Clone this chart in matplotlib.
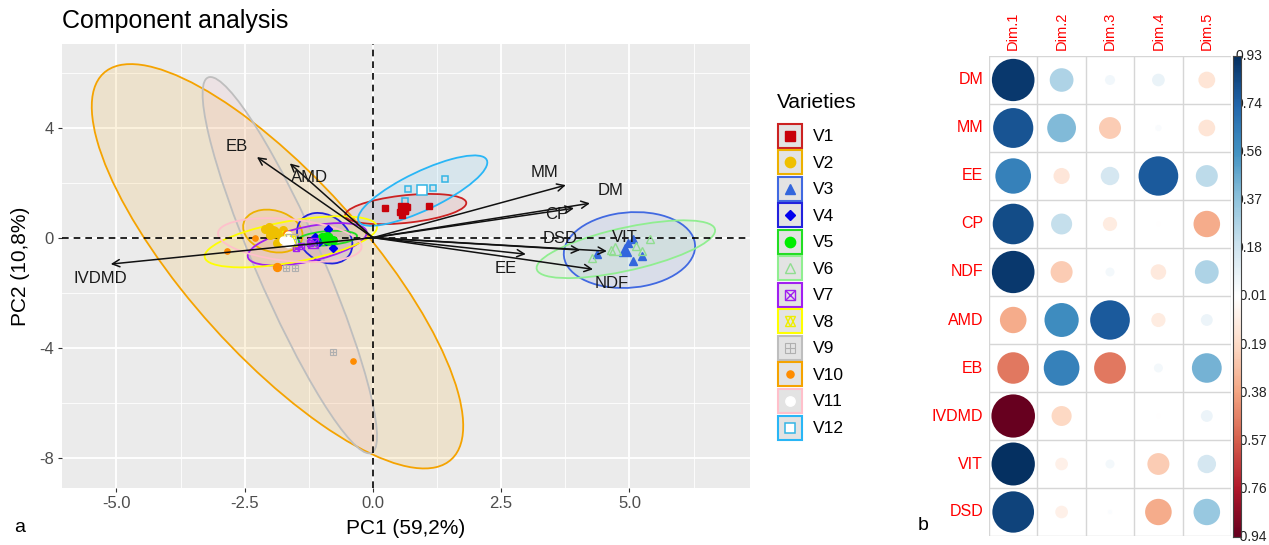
import numpy as np
import matplotlib
matplotlib.use('Agg')
import matplotlib.pyplot as plt
from matplotlib.patches import Ellipse, Circle, Rectangle
from matplotlib.colors import LinearSegmentedColormap, Normalize

plt.rcParams['font.family'] = ['Liberation Sans', 'DejaVu Sans']
plt.rcParams['axes.unicode_minus'] = False

# ---- PCA biplot data ----
varieties = ['V1', 'V2', 'V3', 'V4', 'V5', 'V6', 'V7', 'V8', 'V9', 'V10', 'V11', 'V12']
point_colors = ['#C8000A', '#EFC000', '#3366DD', '#0000EE', '#00EE00', '#90DD90',
                '#A020F0', '#EEEE00', '#B0B0B0', '#FF8C00', '#FFFFFF', '#33B5E5']
line_colors = ['#CC2222', '#EDB100', '#4169E1', '#2222DD', '#22DD22', '#90EE90',
               '#A020F0', '#FFFF00', '#BEBEBE', '#F5A300', '#FFC0CB', '#29B6F6']

# individual observations (PC1, PC2) per variety
obs_pc1 = [
    [0.24, 0.53, 0.59, 0.67, 0.57, 1.09, 0.63],
    [-2.1, -2.03, -1.87, -1.81, -1.75, -2.0],
    [4.37, 4.91, 5.07, 5.07, 5.24, 4.97],
    [-1.12, -0.87, -0.77, -1.06, -0.8],
    [-0.89, -1.0, -0.78],
    [4.27, 4.65, 5.24, 5.4, 5.13],
    [-1.4, -1.22, -1.5],
    [-1.7, -1.6],
    [-1.7, -1.52, -0.78],
    [-2.85, -0.38, -2.3, -1.7],
    [-1.75, -1.65, -1.55],
    [0.69, 1.18, 1.4, 0.63],
]
obs_pc2 = [
    [1.07, 0.92, 1.07, 1.1, 0.81, 1.14, 0.98],
    [0.31, 0.38, -0.2, 0.09, 0.27, 0.08],
    [-0.6, -0.45, -0.06, -0.85, -0.67, -0.2],
    [0.02, 0.31, -0.38, -0.16, -0.07],
    [-0.02, 0.03, -0.07],
    [-0.74, -0.45, -0.49, -0.06, -0.32],
    [-0.32, -0.2, -0.37],
    [0.08, -0.07],
    [-1.1, -1.1, -4.17],
    [-0.47, -4.47, -0.02, 0.18],
    [-0.07, 0.08, -0.12],
    [1.76, 1.79, 2.15, 1.33],
]
# group mean points
mean_pc1 = [0.58, -1.95, 4.91, -0.92, -0.9, 4.72, -1.17, -1.6, -1.6, -1.87, -1.66, 0.96]
mean_pc2 = [1.07, 0.2, -0.45, -0.05, -0.02, -0.43, -0.2, -0.1, -0.05, -1.07, -0.16, 1.73]

# confidence ellipses: centre, half extent in x / y, correlation
ell_cx = [0.64, -1.95, 5.0, -0.94, -0.89, 4.93, -1.28, -1.6, -1.62, -1.86, -1.62, 0.97]
ell_cy = [1.04, 0.24, -0.45, -0.02, -0.02, -0.42, -0.24, -0.15, -1.0, -1.04, -0.09, 1.71]
ell_hx = [1.18, 0.58, 1.28, 0.54, 0.58, 1.74, 1.16, 1.68, 1.70, 3.62, 1.4, 1.26]
ell_hy = [0.55, 0.78, 1.38, 0.92, 0.27, 1.05, 0.77, 0.93, 6.84, 7.35, 0.8, 1.28]
ell_r = [0.4, -0.2, 0.1, -0.25, 0.3, 0.65, 0.55, 0.57, -0.91, -0.79, -0.3, 0.8]
ell_fill = ['#CC2222', '#EDB100', '#4169E1', '#2222DD', '#22DD22', '#90EE90',
            '#A020F0', '#FFFF00', '#F4A6B8', '#F5A300', '#FFC0CB', '#29B6F6']

# variable loadings (arrows) and label spots
var_names = ['EB', 'AMD', 'MM', 'DM', 'CP', 'DSD', 'VIT', 'EE', 'NDF', 'IVDMD']
load_x = [-2.26, -1.62, 3.76, 4.23, 3.92, 4.04, 4.56, 2.98, 4.29, -5.11]
load_y = [2.93, 2.7, 1.91, 1.25, 1.07, -0.45, -0.49, -0.6, -1.15, -0.96]
label_x = [-2.65, -1.23, 3.35, 4.64, 3.59, 3.65, 4.91, 2.59, 4.65, -5.32]
label_y = [3.33, 2.19, 2.38, 1.73, 0.85, -0.02, 0.02, -1.11, -1.65, -1.47]

# ---- correlation plot data ----
corr_rows = ['DM', 'MM', 'EE', 'CP', 'NDF', 'AMD', 'EB', 'IVDMD', 'VIT', 'DSD']
corr_cols = ['Dim.1', 'Dim.2', 'Dim.3', 'Dim.4', 'Dim.5']
corr_values = [
    [0.90, 0.28, 0.05, 0.08, -0.14],
    [0.80, 0.41, -0.24, 0.02, -0.14],
    [0.63, -0.13, 0.17, 0.78, 0.24],
    [0.83, 0.22, -0.10, -0.01, -0.35],
    [0.90, -0.24, 0.04, -0.12, 0.28],
    [-0.35, 0.58, 0.78, -0.10, 0.07],
    [-0.50, 0.63, -0.50, 0.04, 0.44],
    [-0.94, -0.20, 0.0, -0.01, 0.07],
    [0.93, -0.08, 0.04, -0.24, 0.17],
    [0.86, -0.08, 0.01, -0.35, 0.35],
]
cbar_labels = ['0.93', '0.74', '0.56', '0.37', '0.18', '-0.01',
               '-0.19', '-0.38', '-0.57', '-0.76', '-0.94']

W, H = 1269, 545
fig = plt.figure(figsize=(W / 100, H / 100), dpi=100)


def fax(x0, y0, x1, y1):
    return [x0 / W, 1 - y1 / H, (x1 - x0) / W, (y1 - y0) / H]


def draw_marker(ax, x, y, i, s=1.0, **kw):
    c = point_colors[i]
    big = s > 1.2
    if i == 0:
        ax.plot(x, y, 's', ms=5 * s, color=c, mec=c, **kw)
    elif i in (1, 4):
        ax.plot(x, y, 'o', ms=5.5 * s, color=c, mec=c, **kw)
    elif i == 2:
        ax.plot(x, y, '^', ms=5.5 * s, color=c, mec=c, **kw)
    elif i == 3:
        ax.plot(x, y, 'D', ms=3.8 * s, color=c, mec=c, **kw)
    elif i == 5:
        ax.plot(x, y, '^', ms=5.5 * s, mfc='none', mec=c, mew=1, **kw)
    elif i == 6:
        ax.plot(x, y, 's', ms=5 * s, mfc='none', mec=c, mew=1, **kw)
        ax.plot(x, y, 'x', ms=5 * s, color=c, mew=1, **kw)
    elif i == 7:
        ax.plot(x, y, '^', ms=5.5 * s, mfc='none', mec=c, mew=1, **kw)
        ax.plot(x, y, 'v', ms=5.5 * s, mfc='none', mec=c, mew=1, **kw)
    elif i == 8:
        ax.plot(x, y, 's', ms=5 * s, mfc='none', mec=c, mew=0.8, **kw)
        ax.plot(x, y, '+', ms=5 * s, color=c, mew=0.8, **kw)
    elif i == 9:
        ax.plot(x, y, 'o', ms=3.8 * s, color=c, mec=c, **kw)
    elif i == 10:
        ax.plot(x, y, 'o', ms=5 * s, color='white', mec='white', **kw)
    elif i == 11:
        ax.plot(x, y, 's', ms=5 * s, mfc='white' if big else 'none', mec=c, mew=1.1, **kw)


# ---- panel a ----
ax = fig.add_axes(fax(62, 44, 750, 488))
ax.set_facecolor('#EBEBEB')
for sp in ax.spines.values():
    sp.set_visible(False)
ax.set_xlim(-6.06, 7.35)
ax.set_ylim(-9.1, 7.04)
ax.set_xticks([-5, -2.5, 0, 2.5, 5])
ax.set_xticklabels(['-5.0', '-2.5', '0.0', '2.5', '5.0'])
ax.set_xticks([-3.75, -1.25, 1.25, 3.75, 6.25], minor=True)
ax.set_yticks([-8, -4, 0, 4])
ax.set_yticks([-6, -2, 2, 6], minor=True)
ax.grid(which='major', color='white', lw=1.3)
ax.grid(which='minor', color='white', lw=0.6)
ax.set_axisbelow(True)
ax.tick_params(which='major', length=3, color='#333333', labelcolor='#4D4D4D',
               labelsize=12, pad=3)
ax.tick_params(which='minor', length=0)

order = [9, 8] + [k for k in range(12) if k not in (8, 9)]
for i in order:
    S = np.array([[ell_hx[i] ** 2, ell_r[i] * ell_hx[i] * ell_hy[i]],
                  [ell_r[i] * ell_hx[i] * ell_hy[i], ell_hy[i] ** 2]])
    vals, vecs = np.linalg.eigh(S)
    ang = np.degrees(np.arctan2(vecs[1, 1], vecs[0, 1]))
    fa = 0.13 if i in (8, 9) else 0.1
    ax.add_patch(Ellipse((ell_cx[i], ell_cy[i]), 2 * np.sqrt(vals[1]), 2 * np.sqrt(vals[0]),
                         angle=ang, facecolor=ell_fill[i], alpha=fa, edgecolor='none', zorder=2))
    ax.add_patch(Ellipse((ell_cx[i], ell_cy[i]), 2 * np.sqrt(vals[1]), 2 * np.sqrt(vals[0]),
                         angle=ang, facecolor='none', edgecolor=line_colors[i], lw=1.3, zorder=3))

ax.axhline(0, color='black', ls=(0, (4, 3)), lw=1.2, zorder=4)
ax.axvline(0, color='black', ls=(0, (4, 3)), lw=1.2, zorder=4)

for i in range(12):
    for x, y in zip(obs_pc1[i], obs_pc2[i]):
        draw_marker(ax, x, y, i, zorder=5)
    draw_marker(ax, mean_pc1[i], mean_pc2[i], i, s=1.5, zorder=6)

for k, name in enumerate(var_names):
    ax.annotate('', xy=(load_x[k], load_y[k]), xytext=(0, 0),
                arrowprops=dict(arrowstyle='->', color='#111111', lw=1.1,
                                mutation_scale=13, shrinkA=0, shrinkB=0), zorder=7)
    ax.text(label_x[k], label_y[k], name, fontsize=12, ha='center', va='center',
            color='#1A1A1A', zorder=8)

# ---- overlay for titles, legend and panel letters ----
ov = fig.add_axes([0, 0, 1, 1], zorder=10)
ov.set_xlim(0, W)
ov.set_ylim(H, 0)
ov.axis('off')
ov.patch.set_alpha(0)
ov.text(62, 28, 'Component analysis', fontsize=18, ha='left', va='baseline')
ov.text(406, 534, 'PC1 (59,2%)', fontsize=15, ha='center', va='baseline')
ov.text(21, 266, 'PC2 (10,8%)', fontsize=15, ha='center', va='center', rotation=90)
ov.text(777, 103, 'Varieties', fontsize=15, va='center', ha='left')
for i, name in enumerate(varieties):
    yc = 135.5 + i * 26.55
    ov.add_patch(Rectangle((778, yc - 12), 24, 24, facecolor='#E3E3E3',
                           edgecolor=line_colors[i], lw=1.5))
    draw_marker(ov, 790, yc, i, s=1.35)
    ov.text(813, yc + 1, name, fontsize=12.5, va='center', ha='left')
ov.text(14, 527, 'a', fontsize=14, va='center')
ov.text(918, 526, 'b', fontsize=14, va='center')

# ---- panel b ----
cmap = LinearSegmentedColormap.from_list('rdbu', ["#67001F", "#B2182B", "#D6604D", "#F4A582",
                                                   "#FDDBC7", "#FFFFFF", "#D1E5F0", "#92C5DE",
                                                   "#4393C3", "#2166AC", "#053061"])
norm = Normalize(-0.94, 0.93)
ax2 = fig.add_axes(fax(989, 56, 1231, 536))
ax2.set_xlim(0.5, 5.5)
ax2.set_ylim(10.5, 0.5)
ax2.axis('off')
for v in np.arange(0.5, 6, 1):
    ax2.plot([v, v], [0.5, 10.5], color='#D6D6D6', lw=1, zorder=1)
for h in np.arange(0.5, 11, 1):
    ax2.plot([0.5, 5.5], [h, h], color='#D6D6D6', lw=1, zorder=1)
vmax = np.abs(np.array(corr_values)).max()
for r, row in enumerate(corr_values):
    for c, val in enumerate(row):
        rad = 0.45 * np.sqrt(abs(val) / vmax)
        ax2.add_patch(Circle((c + 1, r + 1), rad, facecolor=cmap(norm(val)),
                             edgecolor='none', zorder=2))
for r, name in enumerate(corr_rows):
    ax2.text(0.38, r + 1, name, ha='right', va='center', color='#FF0000', fontsize=11.5,
             clip_on=False)
for c, name in enumerate(corr_cols):
    ax2.text(c + 1, 0.37, name, ha='center', va='bottom', rotation=90, color='#FF0000',
             fontsize=10.5, clip_on=False)

ax3 = fig.add_axes(fax(1233, 56, 1241, 537), zorder=11)
grad = np.linspace(0.93, -0.94, 200).reshape(-1, 1)
ax3.imshow(grad, aspect='auto', cmap=cmap, norm=norm, extent=[0, 1, 0, 1])
ax3.set_xticks([])
ax3.set_yticks([])
for sp in ax3.spines.values():
    sp.set_color('#444444')
    sp.set_linewidth(0.8)
for k, lab in enumerate(cbar_labels):
    yy = 56 + k * (537 - 56) / 10
    ov.text(1235, yy, lab, fontsize=10, ha='left', va='center', color='#222222', zorder=1)

fig.savefig('out.png', dpi=100)
